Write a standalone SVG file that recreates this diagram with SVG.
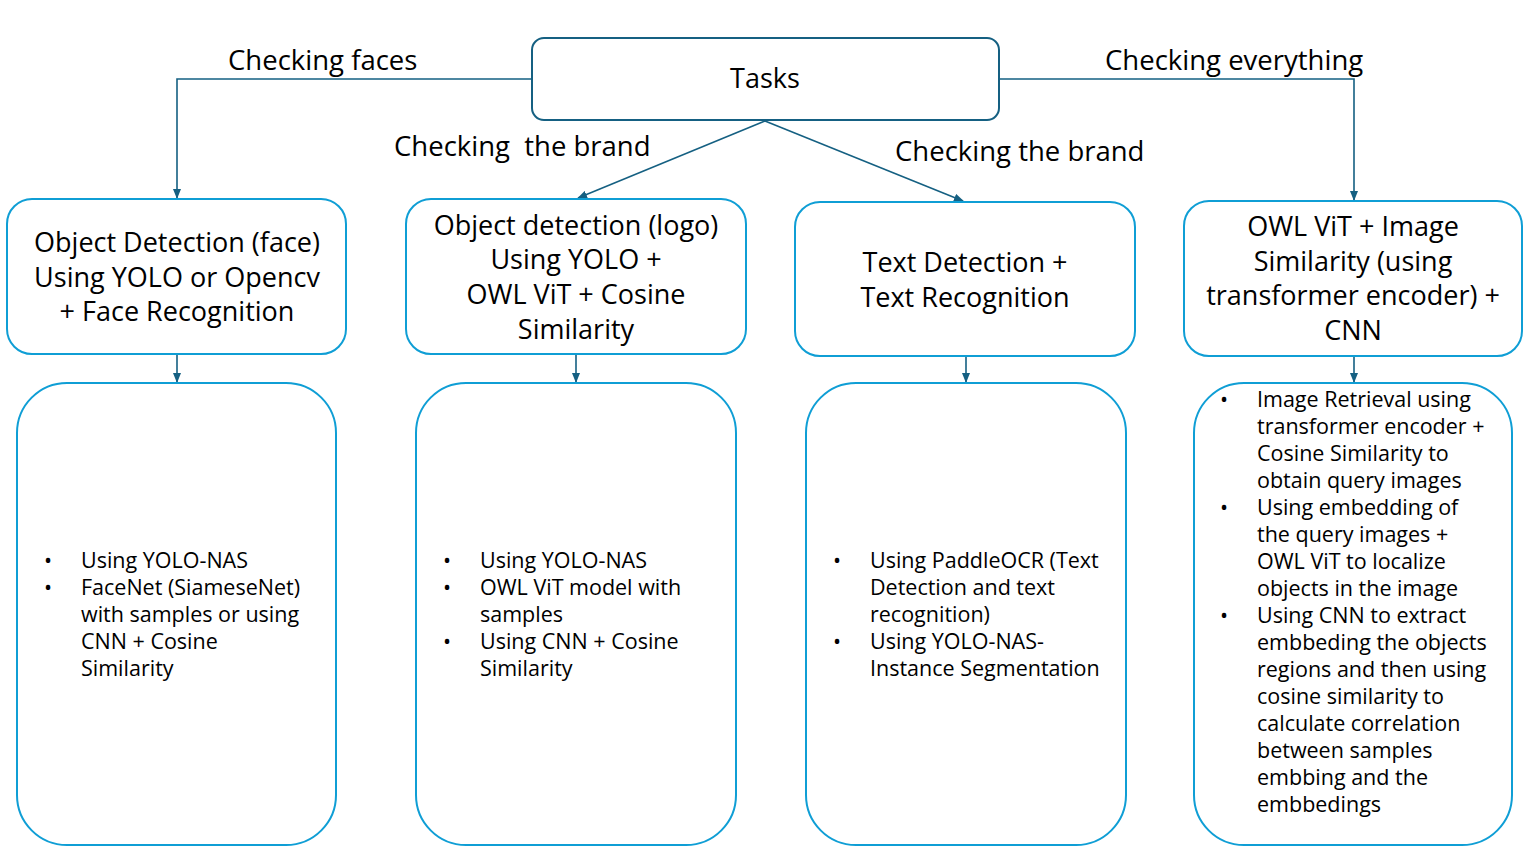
<svg xmlns="http://www.w3.org/2000/svg" width="1523" height="851" viewBox="0 0 1523 851">
<defs>
<style>
.t{font-family:"Open Sans","Liberation Sans",Arial,sans-serif;fill:#000}
.lbl{font-size:27.5px}
.hd{font-size:27px;text-anchor:middle}
.bd{font-size:21.5px}
.top{fill:#fff;stroke:#156082;stroke-width:2}
.b1{fill:#fff;stroke:#0F9ED5;stroke-width:2}
.con{fill:none;stroke:#156082;stroke-width:1.6}
</style>
<marker id="ar" markerWidth="10" markerHeight="8" refX="9" refY="4" orient="auto" markerUnits="userSpaceOnUse">
<path d="M0,0 L10,4 L0,8 Z" fill="#156082"/>
</marker>
</defs>
<rect width="1523" height="851" fill="#fff"/>
<g id="connectors">
<path class="con" d="M532,79 H177 V198" marker-end="url(#ar)"/>
<path class="con" d="M999,79 H1354 V200" marker-end="url(#ar)"/>
<path class="con" d="M765,121 L578,198" marker-end="url(#ar)"/>
<path class="con" d="M765,121 L963,201" marker-end="url(#ar)"/>
<path class="con" d="M177,354 V382" marker-end="url(#ar)"/>
<path class="con" d="M576,354 V382" marker-end="url(#ar)"/>
<path class="con" d="M966,356 V382" marker-end="url(#ar)"/>
<path class="con" d="M1354,356 V382" marker-end="url(#ar)"/>
</g>
<g id="labels">
<text class="t lbl" x="228" y="70">Checking faces</text>
<text class="t lbl" x="1105" y="70" xml:space="preserve">Checking everything</text>
<text class="t lbl" x="394" y="156" xml:space="preserve">Checking  the brand</text>
<text class="t lbl" x="895" y="161">Checking the brand</text>
</g>
<g id="tasks">
<rect class="top" x="532" y="38" width="467" height="82" rx="12"/>
<text class="t hd" x="765" y="88">Tasks</text>
</g>
<g id="face">
<rect class="b1" x="7" y="199" width="339" height="155" rx="25"/>
<text class="t hd" x="177" y="252">Object Detection (face)</text>
<text class="t hd" x="177" y="287">Using YOLO or Opencv</text>
<text class="t hd" x="177" y="321">+ Face Recognition</text>
</g>
<g id="logo">
<rect class="b1" x="406" y="199" width="340" height="155" rx="25"/>
<text class="t hd" x="576" y="235">Object detection (logo)</text>
<text class="t hd" x="576" y="269">Using YOLO +</text>
<text class="t hd" x="576" y="304">OWL ViT + Cosine</text>
<text class="t hd" x="576" y="339">Similarity</text>
</g>
<g id="text">
<rect class="b1" x="795" y="202" width="340" height="154" rx="25"/>
<text class="t hd" x="965" y="272">Text Detection +</text>
<text class="t hd" x="965" y="307">Text Recognition</text>
</g>
<g id="owl">
<rect class="b1" x="1184" y="201" width="338" height="155" rx="25"/>
<text class="t hd" x="1353" y="236">OWL ViT + Image</text>
<text class="t hd" x="1353" y="271">Similarity (using</text>
<text class="t hd" x="1353" y="305">transformer encoder) +</text>
<text class="t hd" x="1353" y="340">CNN</text>
</g>
<g id="face-details">
<rect class="b1" x="17" y="383" width="319" height="462" rx="50"/>
<text class="t bd" x="44" y="568">•</text>
<text class="t bd" x="44" y="595">•</text>
<text class="t bd" x="81" y="568">Using YOLO-NAS</text>
<text class="t bd" x="81" y="595">FaceNet (SiameseNet)</text>
<text class="t bd" x="81" y="622">with samples or using</text>
<text class="t bd" x="81" y="649">CNN + Cosine</text>
<text class="t bd" x="81" y="676">Similarity</text>
</g>
<g id="logo-details">
<rect class="b1" x="416" y="383" width="320" height="462" rx="50"/>
<text class="t bd" x="443" y="568">•</text>
<text class="t bd" x="443" y="595">•</text>
<text class="t bd" x="443" y="649">•</text>
<text class="t bd" x="480" y="568">Using YOLO-NAS</text>
<text class="t bd" x="480" y="595">OWL ViT model with</text>
<text class="t bd" x="480" y="622">samples</text>
<text class="t bd" x="480" y="649">Using CNN + Cosine</text>
<text class="t bd" x="480" y="676">Similarity</text>
</g>
<g id="text-details">
<rect class="b1" x="806" y="383" width="320" height="462" rx="50"/>
<text class="t bd" x="833" y="568">•</text>
<text class="t bd" x="833" y="649">•</text>
<text class="t bd" x="870" y="568">Using PaddleOCR (Text</text>
<text class="t bd" x="870" y="595">Detection and text</text>
<text class="t bd" x="870" y="622">recognition)</text>
<text class="t bd" x="870" y="649">Using YOLO-NAS-</text>
<text class="t bd" x="870" y="676">Instance Segmentation</text>
</g>
<g id="owl-details">
<rect class="b1" x="1194" y="383" width="318" height="462" rx="50"/>
<text class="t bd" x="1220" y="407">•</text>
<text class="t bd" x="1220" y="515">•</text>
<text class="t bd" x="1220" y="623">•</text>
<text class="t bd" x="1257" y="407">Image Retrieval using</text>
<text class="t bd" x="1257" y="434">transformer encoder +</text>
<text class="t bd" x="1257" y="461">Cosine Similarity to</text>
<text class="t bd" x="1257" y="488">obtain query images</text>
<text class="t bd" x="1257" y="515">Using embedding of</text>
<text class="t bd" x="1257" y="542">the query images +</text>
<text class="t bd" x="1257" y="569">OWL ViT to localize</text>
<text class="t bd" x="1257" y="596">objects in the image</text>
<text class="t bd" x="1257" y="623">Using CNN to extract</text>
<text class="t bd" x="1257" y="650">embbeding the objects</text>
<text class="t bd" x="1257" y="677">regions and then using</text>
<text class="t bd" x="1257" y="704">cosine similarity to</text>
<text class="t bd" x="1257" y="731">calculate correlation</text>
<text class="t bd" x="1257" y="758">between samples</text>
<text class="t bd" x="1257" y="785">embbing and the</text>
<text class="t bd" x="1257" y="812">embbedings</text>
</g>
</svg>
